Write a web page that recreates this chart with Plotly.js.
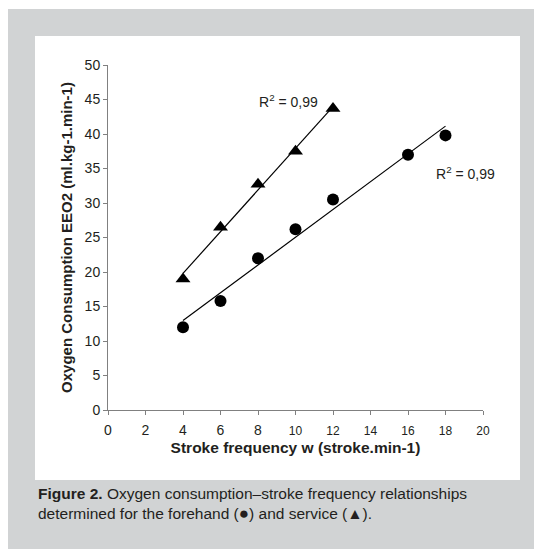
<!DOCTYPE html>
<html>
<head>
<meta charset="utf-8">
<script src="https://cdn.plot.ly/plotly-3.0.1.min.js"></script>
<style>
html,body{margin:0;padding:0;background:#fff;}
#chart{width:534px;height:549px;}
</style>
</head>
<body>
<div id="chart"></div>
<script>
// Data
const serviceFreq = [4, 6, 8, 10, 12];
const serviceVO2  = [19, 26.5, 32.7, 37.5, 43.7];
const forehandFreq = [4, 6, 8, 10, 12, 16, 18];
const forehandVO2  = [12, 15.8, 22, 26.2, 30.5, 37, 39.8];
const xTickVals = [0, 2, 4, 6, 8, 10, 12, 14, 16, 18, 20];
const xTickLabels = ['0','2','4','6','8','10','12','14','16','18','20'];
const yTickVals = [0, 5, 10, 15, 20, 25, 30, 35, 40, 45, 50];
const r2Labels = ['R<sup>2</sup> = 0,99', 'R<sup>2</sup> = 0,99'];

function fit(xs, ys) {
  const n = xs.length;
  const mx = xs.reduce((a, b) => a + b, 0) / n;
  const my = ys.reduce((a, b) => a + b, 0) / n;
  let sxy = 0, sxx = 0;
  for (let i = 0; i < n; i++) { sxy += (xs[i] - mx) * (ys[i] - my); sxx += (xs[i] - mx) ** 2; }
  const b = sxy / sxx, a = my - b * mx;
  const x0 = Math.min(...xs), x1 = Math.max(...xs);
  return { x: [x0, x1], y: [a + b * x0, a + b * x1] };
}
const fitS = fit(serviceFreq, serviceVO2);
const fitF = fit(forehandFreq, forehandVO2);

const FONT = 'Arial, "Liberation Sans", Helvetica, sans-serif';
const TXT = '#231f20';

const traces = [
  { x: fitS.x, y: fitS.y, mode: 'lines', line: { color: '#000', width: 1.2 }, hoverinfo: 'skip' },
  { x: fitF.x, y: fitF.y, mode: 'lines', line: { color: '#000', width: 1.2 }, hoverinfo: 'skip' },
  { x: serviceFreq, y: serviceVO2, mode: 'markers', name: 'service',
    marker: { symbol: 'triangle-up', size: 13, color: '#000' } },
  { x: forehandFreq, y: forehandVO2, mode: 'markers', name: 'forehand',
    marker: { symbol: 'circle', size: 12, color: '#000' } }
];

const tickText = xTickLabels.map((t, i) =>
  xTickVals[i] < 10 ? t : '<span style="font-size:12px">' + t + '</span>');

const layout = {
  width: 534, height: 549,
  margin: { l: 108, r: 51, t: 65, b: 139 },
  paper_bgcolor: '#ffffff',
  plot_bgcolor: 'rgba(0,0,0,0)',
  showlegend: false,
  font: { family: FONT, color: TXT, size: 14 },
  xaxis: {
    range: [0, 20], tickmode: 'array', tickvals: xTickVals, ticktext: tickText,
    showgrid: false, zeroline: false, showline: true, linecolor: '#808080', linewidth: 1,
    ticks: 'outside', ticklen: 4, tickcolor: '#808080', ticklabelstandoff: 3,
    tickfont: { family: FONT, size: 14, color: TXT },
    title: { text: '<b>Stroke frequency w (stroke.min-1)</b>', standoff: 5,
      font: { family: FONT, size: 15.5, color: TXT } },
    automargin: false
  },
  yaxis: {
    range: [0, 50], tickmode: 'array', tickvals: yTickVals,
    showgrid: false, zeroline: false, showline: true, linecolor: '#808080', linewidth: 1,
    ticks: 'outside', ticklen: 4, tickcolor: '#808080',
    tickfont: { family: FONT, size: 14, color: TXT },
    title: { text: '<b>Oxygen Consumption EEO2 (ml.kg-1.min-1)</b>', standoff: 8,
      font: { family: FONT, size: 15, color: TXT } },
    automargin: false
  },
  shapes: [
    { type: 'rect', xref: 'paper', yref: 'paper', x0: -0.2667, x1: 1.136, y0: -0.403, y1: 1.1623,
      fillcolor: '#d1d3d4', line: { width: 0 }, layer: 'below' },
    { type: 'rect', xref: 'paper', yref: 'paper', x0: -0.1947, x1: 1.0987, y0: -0.2029, y1: 1.0841,
      fillcolor: '#ffffff', line: { width: 0 }, layer: 'below' }
  ],
  annotations: [
    { x: 9.65, y: 44.8, xref: 'x', yref: 'y', text: r2Labels[0], showarrow: false,
      font: { family: FONT, size: 14, color: TXT } },
    { x: 19.04, y: 34.3, xref: 'x', yref: 'y', text: r2Labels[1], showarrow: false,
      font: { family: FONT, size: 14, color: TXT } },
    { x: -0.192, y: -0.2116, xref: 'paper', yref: 'paper', xanchor: 'left', yanchor: 'top', align: 'left',
      showarrow: false,
      text: '<b>Figure 2.</b> Oxygen consumption–stroke frequency relationships<br>determined for the forehand (<span style="font-size:17px">●</span>) and service (▲).',
      font: { family: FONT, size: 15.5, color: TXT } }
  ]
};

Plotly.newPlot('chart', traces, layout, { displayModeBar: false, staticPlot: true });
</script>
</body>
</html>
